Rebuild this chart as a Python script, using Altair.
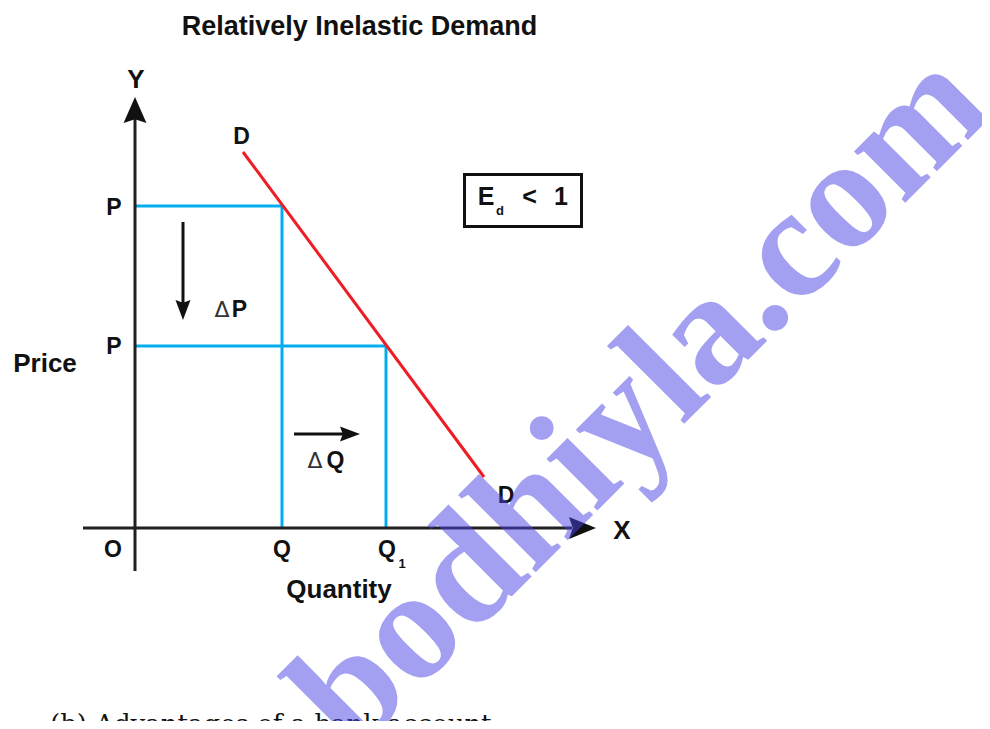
import altair as alt
import pandas as pd

# Diagram units: 1 unit = 10 px, origin at point O.
X_DOMAIN = [-12.7, 84.7]
Y_DOMAIN = [-19.3, 52.0]

# Axes (Y axis, X axis)
axis_x = [0.0, -5.2]
axis_y = [-4.3, 0.0]
axis_x2 = [0.0, 43.7]
axis_y2 = [41.0, 0.0]

# Blue guide lines (P-Q and P-Q1 rectangles)
guide_x = [0.0, 14.7, 0.0, 25.1]
guide_y = [32.2, 32.2, 18.2, 18.2]
guide_x2 = [14.7, 14.7, 25.1, 25.1]
guide_y2 = [32.2, 0.0, 18.2, 0.0]

# Demand curve D-D
demand_x = [10.8, 34.9]
demand_y = [37.6, 5.1]

# Arrow shafts (delta P down, delta Q right)
shaft_x = [4.8, 15.9]
shaft_y = [30.6, 9.4]
shaft_x2 = [4.8, 21.0]
shaft_y2 = [22.5, 9.4]

# Arrow heads
head_up = ([0.0], [41.8])
head_right_big = ([44.75], [0.0])
head_down = ([4.8], [21.8])
head_right_small = ([21.5], [9.4])

# Elasticity box
box_x, box_y, box_x2, box_y2 = [32.95], [35.35], [44.65], [30.15]

# Labels
title_text = ["Relatively Inelastic Demand"]
title_x, title_y = [22.45], [49.3]

axis_names = ["Y", "X", "Price", "Quantity"]
axis_names_x = [0.1, 48.7, -9.0, 20.4]
axis_names_y = [44.0, -1.1, 15.6, -7.0]

point_labels = ["P", "P", "O", "Q", "Q", "D", "D", "P", "Q"]
point_labels_x = [-2.1, -2.1, -2.2, 14.7, 25.2, 10.65, 37.1, 10.45, 20.05]
point_labels_y = [31.3, 17.4, -2.9, -2.9, -2.9, 38.4, 2.5, 21.1, 6.0]

elastic_labels = ["E", "<", "1"]
elastic_x = [35.1, 39.45, 42.6]
elastic_y = [32.3, 32.3, 32.3]

sub_labels = ["d", "1"]
sub_x = [36.5, 26.7]
sub_y = [31.3, -4.0]

delta_labels = ["\u0394", "\u0394"]
delta_x = [8.7, 18.0]
delta_y = [21.1, 6.0]

watermark = ["bodhiyla.com"]
watermark_x, watermark_y = [53.9], [9.4]

footer = ["(b)  Advantages of a bank account:"]
footer_x, footer_y = [-8.5], [-20.5]

xs = alt.Scale(domain=X_DOMAIN, nice=False, zero=False)
ys = alt.Scale(domain=Y_DOMAIN, nice=False, zero=False)


def X(f="x"):
    return alt.X(f"{f}:Q", scale=xs, axis=None)


def Y(f="y"):
    return alt.Y(f"{f}:Q", scale=ys, axis=None)


def segs(x, y, x2, y2, color, width):
    df = pd.DataFrame({"x": x, "y": y, "x2": x2, "y2": y2})
    return alt.Chart(df).mark_rule(color=color, strokeWidth=width).encode(
        x=X(), y=Y(), x2="x2:Q", y2="y2:Q"
    )


def head(pt, path, size):
    df = pd.DataFrame({"x": pt[0], "y": pt[1]})
    return alt.Chart(df).mark_point(
        shape=path, size=size, filled=True, fill="#111111", stroke=None, opacity=1
    ).encode(x=X(), y=Y())


def texts(labels, x, y, size, weight="bold", font="Liberation Sans",
          color="#111111", align="center", **kw):
    df = pd.DataFrame({"x": x, "y": y, "t": labels})
    return alt.Chart(df).mark_text(
        font=font, fontSize=size, fontWeight=weight, color=color,
        align=align, baseline="alphabetic", **kw
    ).encode(x=X(), y=Y(), text="t:N")


layers = [
    segs(guide_x, guide_y, guide_x2, guide_y2, "#00aeef", 3),
    alt.Chart(pd.DataFrame({"x": demand_x, "y": demand_y}))
    .mark_line(color="#ee1c24", strokeWidth=3)
    .encode(x=X(), y=Y()),
    segs(axis_x, axis_y, axis_x2, axis_y2, "#231f20", 3),
    segs(shaft_x, shaft_y, shaft_x2, shaft_y2, "#111111", 3),
    head(head_up, "M0,-1L0.88,1L0,0.72L-0.88,1Z", 676),
    head(head_right_big, "M1,0L-1,0.81L-0.72,0L-1,-0.81Z", 729),
    head(head_down, "M0,1L0.75,-1L0,-0.72L-0.75,-1Z", 400),
    head(head_right_small, "M1,0L-1,0.75L-0.72,0L-1,-0.75Z", 400),
    alt.Chart(pd.DataFrame({"x": box_x, "y": box_y, "x2": box_x2, "y2": box_y2}))
    .mark_rect(fillOpacity=0, stroke="#111111", strokeWidth=3)
    .encode(x=X(), y=Y(), x2="x2:Q", y2="y2:Q"),
    texts(title_text, title_x, title_y, 27),
    texts(axis_names, axis_names_x, axis_names_y, 26),
    texts(point_labels, point_labels_x, point_labels_y, 23),
    texts(elastic_labels, elastic_x, elastic_y, 25),
    texts(sub_labels, sub_x, sub_y, 13),
    texts(delta_labels, delta_x, delta_y, 22, weight="normal", font="DejaVu Sans",
          color="#333333"),
    texts(footer, footer_x, footer_y, 26, weight="normal", font="DejaVu Serif",
          align="left"),
    texts(watermark, watermark_x, watermark_y, 158, font="Liberation Serif",
          color="#4a44e6", angle=315, opacity=0.5),
]

chart = (
    alt.layer(*layers)
    .properties(width=974, height=713, padding=0,
                autosize=alt.AutoSizeParams(type="none"), background="white")
    .configure_view(stroke=None)
)

chart.save("out.html", embed_options={"renderer": "svg", "actions": False})
